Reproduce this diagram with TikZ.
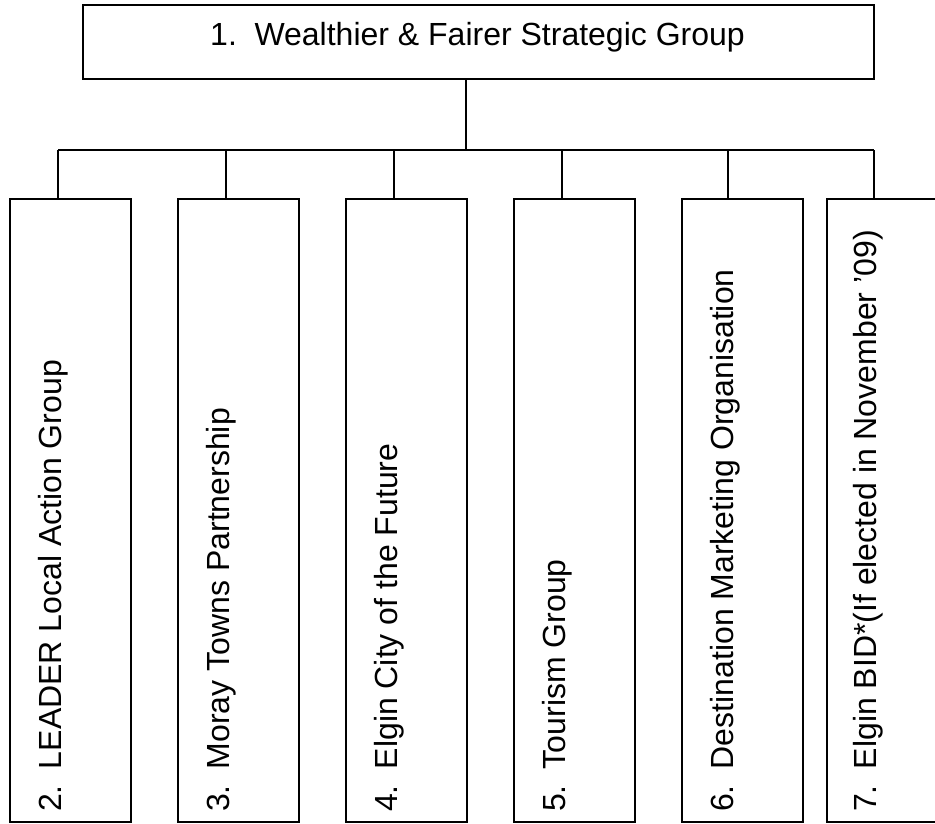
\documentclass[tikz,border=0pt]{standalone}
\usepackage{fontspec}
\setmainfont{Liberation Sans}
\begin{document}
\begin{tikzpicture}[x=1pt,y=-1pt,
  boxst/.style={draw, line width=1.5pt, inner sep=0pt, minimum width=121pt, minimum height=623pt, anchor=north west},
  lbl/.style={font=\fontsize{32}{38}\selectfont, inner sep=0pt, rotate=90, anchor=base west},
  conn/.style={line width=1.3pt}]
\useasboundingbox (0,0) rectangle (935,823);
\node[draw, line width=2pt, inner sep=0pt, minimum width=791pt, minimum height=74pt, anchor=north west] (top) at (82,4) {};
\node[font=\fontsize{32}{38}\selectfont, inner sep=0pt, anchor=base] (toptext) at (477.5,45) {1.\hspace{0.55em}Wealthier \& Fairer Strategic Group};
% boxes
\node[boxst] (b2) at (9,198) {};
\node[boxst] (b3) at (177,198) {};
\node[boxst] (b4) at (345,198) {};
\node[boxst] (b5) at (513,198) {};
\node[boxst] (b6) at (681,198) {};
\node[boxst] (b7) at (826,198) {};
% labels
\node[lbl] (t2) at (61,812) {2.\hspace{0.5em}LEADER Local Action Group};
\node[lbl] (t3) at (229,812) {3.\hspace{0.5em}Moray Towns Partnership};
\node[lbl] (t4) at (397,812) {4.\hspace{0.5em}Elgin City of the Future};
\node[lbl] (t5) at (565,812) {5.\hspace{0.5em}Tourism Group};
\node[lbl] (t6) at (733,812) {6.\hspace{0.5em}Destination Marketing Organisation};
\node[lbl] (t7) at (876,812) {7.\hspace{0.5em}Elgin BID*(If elected in November ’09)};
% connectors
\coordinate (trunk) at (466,150);
\coordinate (d2) at (58,150);
\coordinate (d3) at (226,150);
\coordinate (d4) at (394,150);
\coordinate (d5) at (562,150);
\coordinate (d6) at (728,150);
\coordinate (d7) at (874,150);
\draw[conn] (top.south -| trunk) -- (trunk);
\draw[conn] (d2) -- (d7);
\foreach \i in {2,...,7} {\draw[conn] (d\i) -- (d\i |- b\i.north);}
\end{tikzpicture}
\end{document}
